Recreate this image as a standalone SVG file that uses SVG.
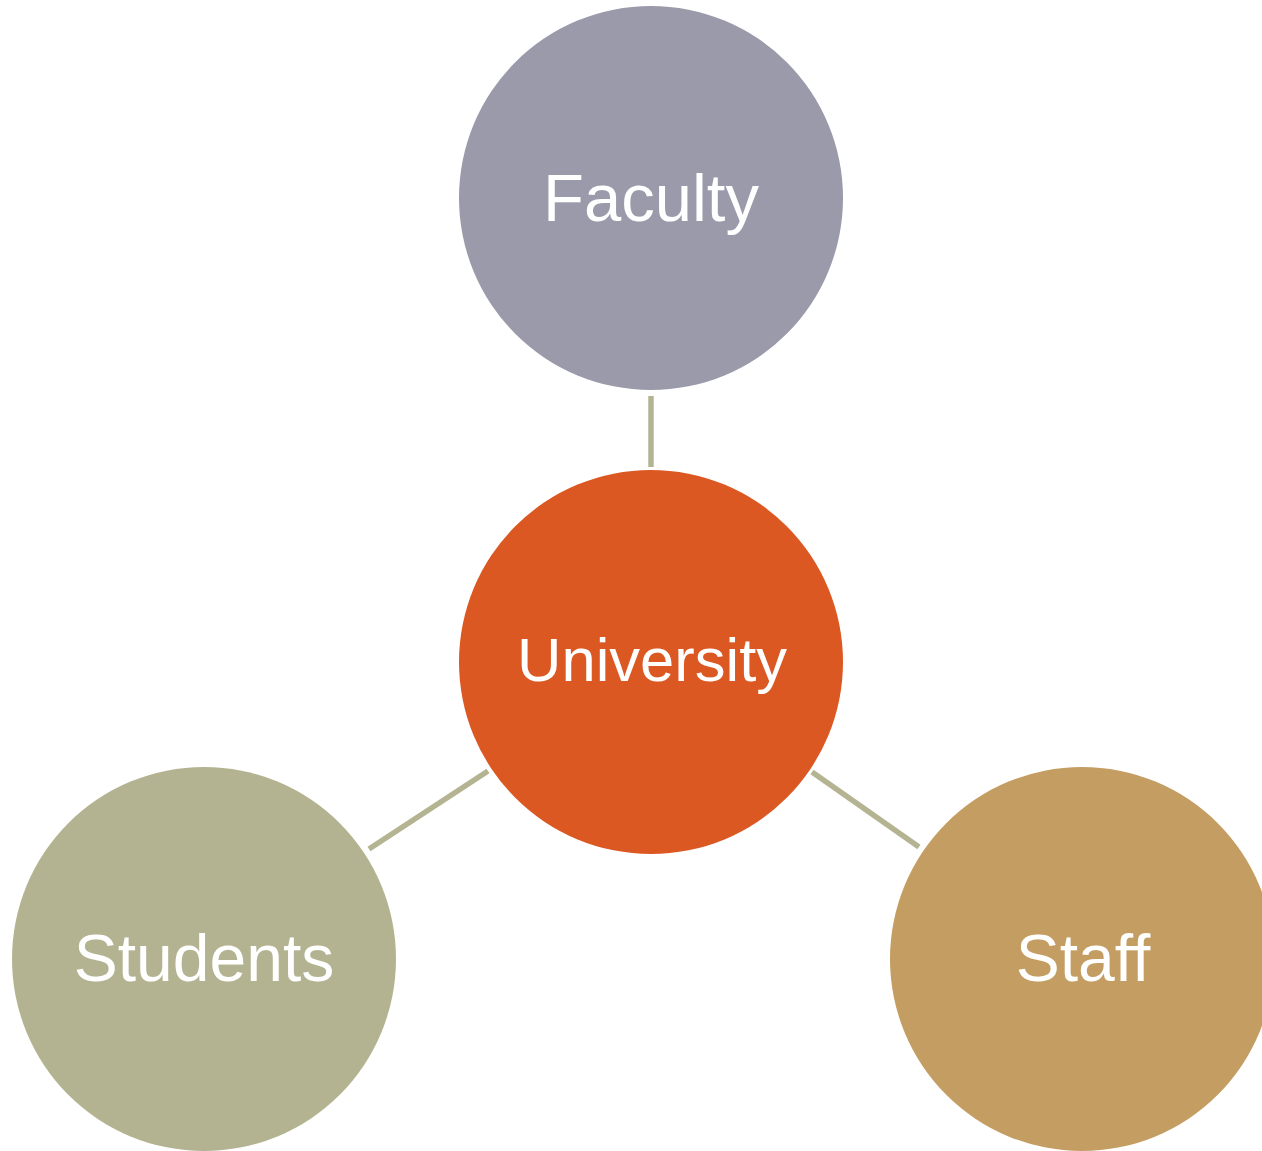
<svg xmlns="http://www.w3.org/2000/svg" width="1262" height="1151" viewBox="0 0 1262 1151">
  <style>
    .label { font-family: "Liberation Sans", Arial, sans-serif; fill: #ffffff; text-anchor: middle; }
    .link { stroke: #b5b492; stroke-width: 5.5; fill: none; }
  </style>
  <rect width="1262" height="1151" fill="#ffffff"/>
  <g id="connectors">
    <line class="link" x1="651" y1="396" x2="651" y2="467"/>
    <line class="link" x1="488" y1="771" x2="369" y2="849"/>
    <line class="link" x1="812" y1="772" x2="919" y2="847"/>
  </g>
  <g id="faculty">
    <circle cx="651" cy="198" r="192" fill="#9a9aab"/>
    <text class="label" x="651" y="221" font-size="67">Faculty</text>
  </g>
  <g id="university">
    <circle cx="651" cy="662" r="192" fill="#dc5823"/>
    <text class="label" x="652" y="681" font-size="61.5">University</text>
  </g>
  <g id="students">
    <circle cx="204" cy="959" r="192" fill="#b4b391"/>
    <text class="label" x="204" y="981" font-size="66">Students</text>
  </g>
  <g id="staff">
    <circle cx="1082" cy="959" r="192" fill="#c49d62"/>
    <text class="label" x="1083" y="981" font-size="66">Staff</text>
  </g>
</svg>
